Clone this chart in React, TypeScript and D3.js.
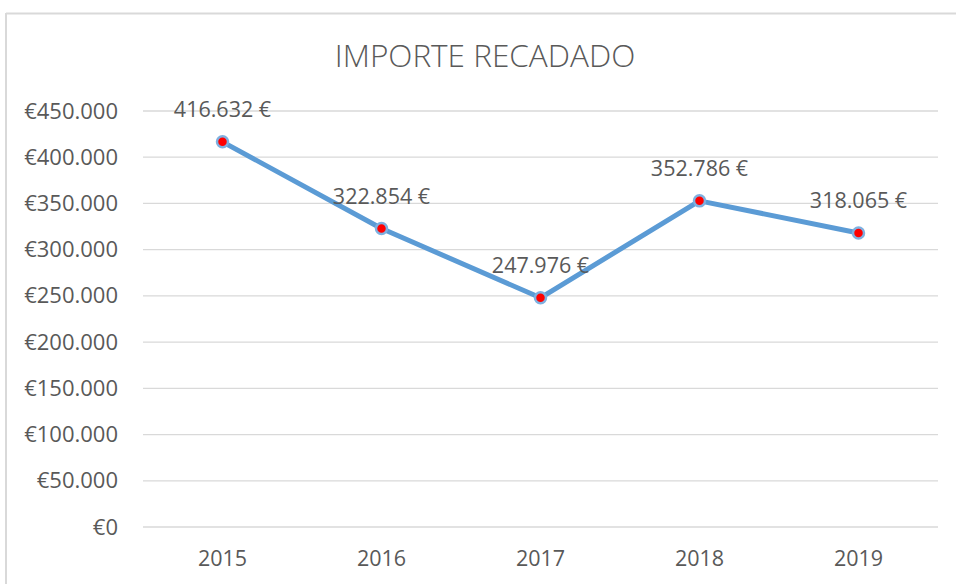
import React from "react";
import * as d3 from "d3";

const years = ["2015", "2016", "2017", "2018", "2019"];
const values = [416632, 322854, 247976, 352786, 318065];
const yTicks = [0, 50000, 100000, 150000, 200000, 250000, 300000, 350000, 400000, 450000];

const W = 956;
const H = 584;
const FONT = "'Open Sans', 'Noto Sans', sans-serif";
const TEXT = "#595959";

const fmtThousands = (v: number) => {
  const s = Math.round(v).toString();
  return s.replace(/\B(?=(\d{3})+(?!\d))/g, ".");
};

export default function App() {
  const x = d3.scaleBand<string>().domain(years).range([143, 938]);
  const y = d3.scaleLinear().domain([0, 450000]).range([527, 111]);
  const cx = (d: string) => (x(d) ?? 0) + x.bandwidth() / 2;

  const line = d3
    .line<number>()
    .x((_, i) => cx(years[i]))
    .y((v) => y(v));

  return (
    <svg
      width={W}
      height={H}
      style={{ position: "absolute", left: 0, top: 0, background: "#fff" }}
      fontFamily={FONT}
    >
      <rect x={0} y={0} width={W} height={H} fill="#fff" />
      {/* outer frame */}
      <line x1={6} x2={W} y1={13.5} y2={13.5} stroke="#d9d9d9" strokeWidth={2} />
      <line x1={6} x2={6} y1={13} y2={H} stroke="#d9d9d9" strokeWidth={2} />

      <text
        x={485}
        y={67}
        textAnchor="middle"
        fontSize={31.5}
        fill={TEXT}
        style={{ fontWeight: 300 }}
      >
        IMPORTE RECADADO
      </text>

      {yTicks.map((t) => (
        <g key={t}>
          <line x1={143} x2={938} y1={y(t)} y2={y(t)} stroke="#d9d9d9" strokeWidth={1.3} />
          <text
            x={118}
            y={y(t) + 7.5}
            textAnchor="end"
            fontSize={22}
            fill={TEXT}
          >
            {"€" + fmtThousands(t)}
          </text>
        </g>
      ))}

      {years.map((yr) => (
        <text key={yr} x={cx(yr)} y={566} textAnchor="middle" fontSize={21.5} fill={TEXT}>
          {yr}
        </text>
      ))}

      <path
        d={line(values) ?? ""}
        fill="none"
        stroke="#5b9bd5"
        strokeWidth={5}
        strokeLinejoin="round"
      />

      {values.map((v, i) => (
        <g key={i}>
          <circle cx={cx(years[i])} cy={y(v)} r={5.5} fill="#ff0000" stroke="#7fb0e0" strokeWidth={2.5} />
          <text
            x={cx(years[i])}
            y={y(v) - 25}
            textAnchor="middle"
            fontSize={21.5}
            fill={TEXT}
          >
            {fmtThousands(v) + " €"}
          </text>
        </g>
      ))}
    </svg>
  );
}
